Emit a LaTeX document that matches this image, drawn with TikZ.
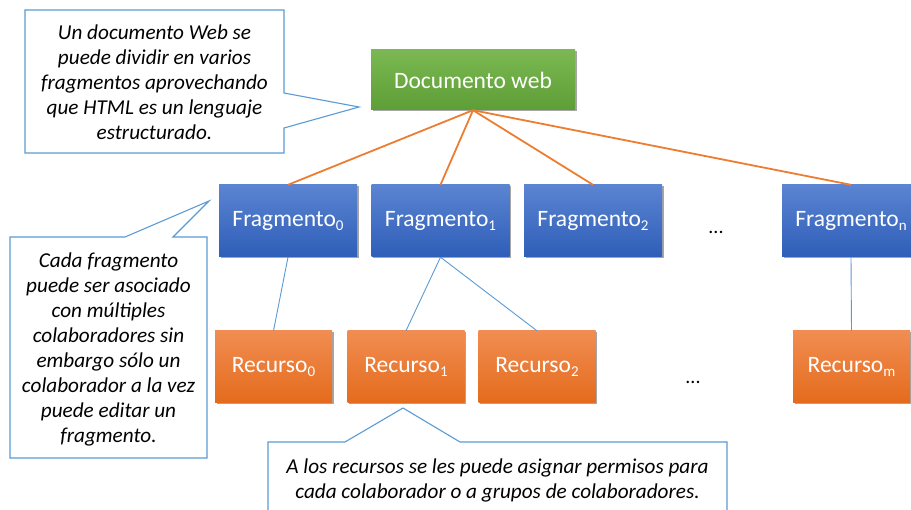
\documentclass[tikz,border=0pt]{standalone}
\usepackage{fontspec}
\setmainfont{Carlito}
\usetikzlibrary{shadows}
\definecolor{gtop}{HTML}{7BB853}
\definecolor{gbot}{HTML}{5E9E36}
\definecolor{btop}{HTML}{5B84D2}
\definecolor{bbot}{HTML}{2E5EB8}
\definecolor{otop}{HTML}{F18D52}
\definecolor{obot}{HTML}{E46B1C}
\definecolor{lineor}{HTML}{ED7D31}
\definecolor{lineblue}{HTML}{5B9BD5}
\newcommand{\mysub}[1]{\raisebox{-4.5pt}{\fontsize{15}{15}\selectfont #1}}
\tikzset{
  box/.style={rectangle, text=white, font=\fontsize{23.5}{26}\selectfont, inner sep=0pt,
    drop shadow={shadow xshift=1.5pt, shadow yshift=-1.5pt, opacity=0.35, fill=black}},
  greenbox/.style={box, top color=gtop, bottom color=gbot, minimum width=204pt, minimum height=60pt},
  bluebox/.style={box, top color=btop, bottom color=bbot, minimum width=138pt, minimum height=72pt},
  orangebox/.style={box, top color=otop, bottom color=obot, minimum width=117pt, minimum height=72pt},
  orline/.style={draw=lineor, line width=1.8pt},
  blline/.style={draw=lineblue, line width=0.9pt},
  callout/.style={draw=lineblue, line width=1.1pt, fill=white, line join=miter},
  ctext/.style={align=center, font=\fontsize{21.2}{25}\selectfont\itshape, inner sep=0pt},
  dots/.style={font=\fontsize{20}{20}\selectfont, inner sep=0pt}
}
\begin{document}
\begin{tikzpicture}[x=1pt, y=-1pt]
\useasboundingbox (0,0) rectangle (911,510);
\fill[white] (0,0) rectangle (911,510);

% nodes
\node[greenbox] (doc) at (473,80) {Documento web};
\node[bluebox] (f0) at (288,221) {Fragmento\mysub{0}};
\node[bluebox] (f1) at (440.5,221) {Fragmento\mysub{1}};
\node[bluebox] (f2) at (593,221) {Fragmento\mysub{2}};
\node[bluebox] (fn) at (851,221) {Fragmento\mysub{n}};
\node[orangebox] (r0) at (273.5,367) {Recurso\mysub{0}};
\node[orangebox] (r1) at (406,367) {Recurso\mysub{1}};
\node[orangebox] (r2) at (537,367) {Recurso\mysub{2}};
\node[orangebox] (rm) at (851.5,367) {Recurso\mysub{m}};
\node[dots] (d1) at (716,232) {...};
\node[dots] (d2) at (693,382) {...};

% connectors
\draw[orline] (doc.south) -- (f0.north);
\draw[orline] (doc.south) -- (f1.north);
\draw[orline] (doc.south) -- (f2.north);
\draw[orline] (doc.south) -- (fn.north);
\draw[blline] (f0.south) -- (r0.north);
\draw[blline] (f1.south) -- (r1.north);
\draw[blline] (f1.south) -- (r2.north);
\draw[blline] (fn.south) -- (rm.north);

% callouts
\draw[callout] (25,10) -- (284,10) -- (284,93) -- (359,107) -- (284,128) -- (284,153) -- (25,153) -- cycle;
\node[ctext] (c1) at (154.5,82) {Un documento Web se\\puede dividir en varios\\fragmentos aprovechando\\que HTML es un lenguaje\\estructurado.};

\draw[callout] (10,237) -- (125,237) -- (209,201) -- (173,237) -- (207,237) -- (207,458) -- (10,458) -- cycle;
\node[ctext] (c2) at (108.5,349) {Cada fragmento\\puede ser asociado\\con múltiples\\colaboradores sin\\embargo sólo un\\colaborador a la vez\\puede editar un\\fragmento.};

\draw[callout] (268,442) -- (345,442) -- (403,408) -- (460,442) -- (727,442) -- (727,525) -- (268,525) -- cycle;
\node[ctext] (c3) at (497.5,480) {A los recursos se les puede asignar permisos para\\cada colaborador o a grupos de colaboradores.};
\end{tikzpicture}
\end{document}
